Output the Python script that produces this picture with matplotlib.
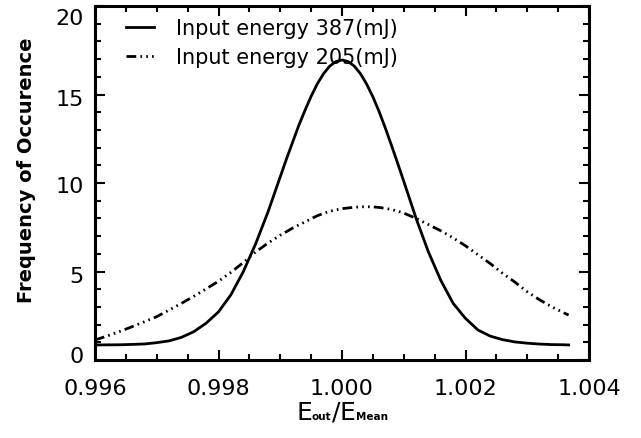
import matplotlib
matplotlib.use("Agg")
import matplotlib.pyplot as plt
import matplotlib.transforms as mtransforms
from matplotlib.ticker import MultipleLocator, FixedLocator
from matplotlib.offsetbox import TextArea, HPacker, AnchoredOffsetbox

plt.rcParams['font.family'] = ['DejaVu Sans']
plt.rcParams['lines.scale_dashes'] = False

# ---- data ----
x_vals = [0.9960, 0.9962, 0.9964, 0.9966, 0.9968, 0.9970, 0.9972, 0.9974, 0.9976, 0.9978,
          0.9980, 0.9982, 0.9984, 0.9986, 0.9988, 0.9990, 0.9991, 0.9992, 0.9993, 0.9994,
          0.9995, 0.9996, 0.9997, 0.9998, 0.9999, 1.0000, 1.0001, 1.0002, 1.0003, 1.0004,
          1.0005, 1.0006, 1.0007, 1.0008, 1.0009, 1.0010, 1.0012, 1.0014, 1.0016, 1.0018,
          1.0020, 1.0022, 1.0024, 1.0026, 1.0028, 1.0030, 1.0032, 1.0034, 1.0036, 1.00367]

freq_387 = [0.85, 0.855, 0.86, 0.88, 0.905, 0.98, 1.08, 1.28, 1.60, 2.08,
            2.72, 3.68, 4.98, 6.55, 8.35, 10.35, 11.35, 12.30, 13.25, 14.10,
            14.90, 15.60, 16.17, 16.60, 16.86, 16.95, 16.86, 16.60, 16.17, 15.58,
            14.87, 14.04, 13.12, 12.14, 11.13, 10.10, 8.00, 6.10, 4.50, 3.20,
            2.35, 1.70, 1.35, 1.15, 1.02, 0.95, 0.90, 0.87, 0.86, 0.85]

freq_205 = [1.13, 1.36, 1.61, 1.88, 2.16, 2.45, 2.82, 3.20, 3.60, 4.02,
            4.45, 4.95, 5.50, 6.10, 6.60, 7.05, 7.25, 7.45, 7.63, 7.80,
            7.98, 8.15, 8.28, 8.40, 8.48, 8.55, 8.59, 8.63, 8.65, 8.66,
            8.65, 8.62, 8.57, 8.50, 8.41, 8.30, 8.00, 7.65, 7.30, 6.90,
            6.45, 5.95, 5.45, 4.90, 4.40, 3.85, 3.40, 3.00, 2.65, 2.54]

labels = ['Input energy 387(mJ)', 'Input energy 205(mJ)']
x_ticks = [0.996, 0.998, 1.000, 1.002, 1.004]
x_ticklabels = ['0.996', '0.998', '1.000', '1.002', '1.004']
y_ticks = [0, 5, 10, 15, 20]

# ---- figure ----
fig = plt.figure(figsize=(6.41, 4.39), dpi=100)
ax = fig.add_axes([95/641, 1 - 361/439, (589-95)/641, (361-7)/439])

ax.plot(x_vals, freq_387, color='black', lw=2.0, label=labels[0])
ax.plot(x_vals, freq_205, color='black', lw=2.0,
        dashes=(7, 3, 1.2, 3, 1.2, 3, 1.2, 3), label=labels[1])

ax.set_xlim(0.996, 1.004)
ax.set_ylim(0, 20)
ax.xaxis.set_major_locator(FixedLocator(x_ticks))
ax.set_xticklabels(x_ticklabels)
ax.xaxis.set_minor_locator(MultipleLocator(0.0005))
ax.yaxis.set_major_locator(FixedLocator(y_ticks))
ax.yaxis.set_minor_locator(MultipleLocator(1))

ax.tick_params(which='both', direction='in', top=True, right=True, width=1.5, colors='black')
ax.tick_params(which='major', length=7.5, labelsize=16)
ax.tick_params(axis='x', which='major', pad=13)
ax.tick_params(axis='y', which='major', pad=8)
ax.tick_params(which='minor', length=4)
for s in ax.spines.values():
    s.set_linewidth(2.2)

ax.set_ylabel('Frequency of Occurence', fontsize=14, fontweight='bold')
ax.yaxis.set_label_coords(-0.119, (361 - 170) / 354)

# x label built from baseline-aligned text pieces (small bold subscripts)
big = dict(fontsize=18, color='black')
small = dict(fontsize=7.5, fontweight='bold', color='black')
parts = [TextArea('E', textprops=big), TextArea('out', textprops=small),
         TextArea('/', textprops=big), TextArea('E', textprops=big),
         TextArea('Mean', textprops=small)]
hp = HPacker(children=parts, align='baseline', pad=0, sep=0)
xl = AnchoredOffsetbox(loc='upper center', child=hp, pad=0, borderpad=0, frameon=False,
                       bbox_to_anchor=(0.5, -(401 - 361) / 354), bbox_transform=ax.transAxes)
ax.add_artist(xl)

leg = ax.legend(loc='upper left', bbox_to_anchor=(0.025, 1.019), frameon=False,
                fontsize=15, handlelength=1.35, handletextpad=1.05, labelspacing=0.44)

# y tick label vertical offsets as in the reference (pixels, positive = down)
fig.canvas.draw()
y_offsets = {0: -6, 5: 3, 10: 1, 15: 3, 20: 10}
for tick, val in zip(ax.yaxis.get_major_ticks(), ax.yaxis.get_majorticklocs()):
    dy = y_offsets.get(int(round(val)), 0)
    tr = tick.label1.get_transform() + mtransforms.ScaledTranslation(0, -dy / 100, fig.dpi_scale_trans)
    tick.label1.set_transform(tr)

fig.savefig('out.png', dpi=100)
